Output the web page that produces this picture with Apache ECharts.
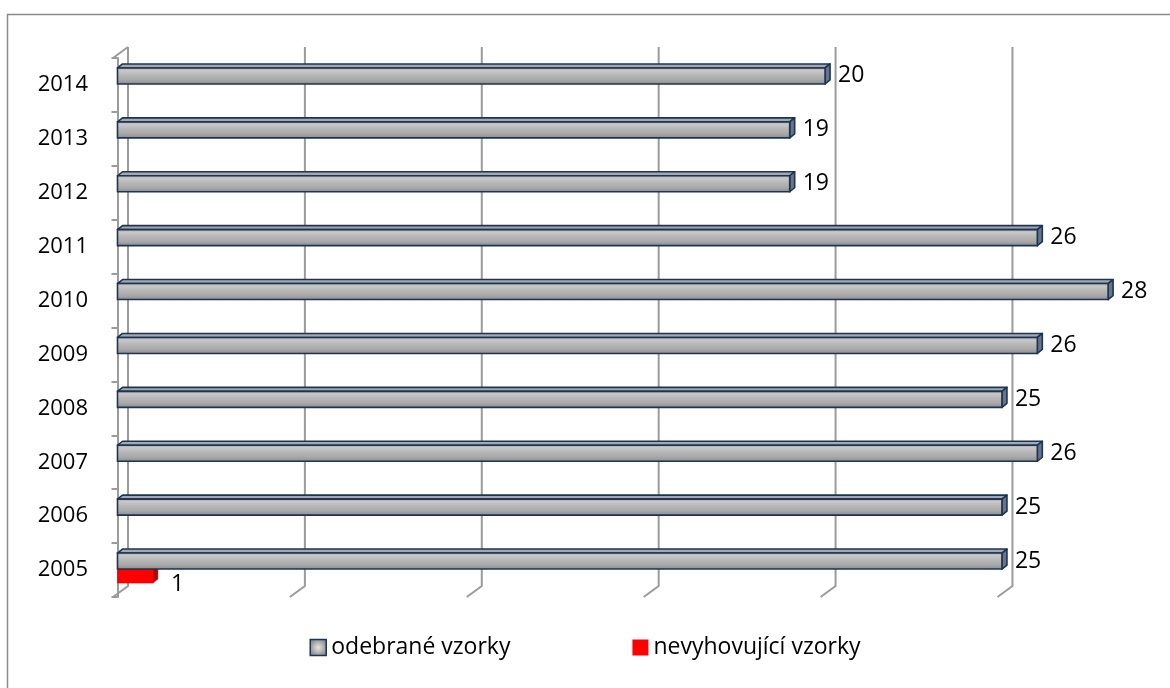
<!DOCTYPE html>
<html>
<head>
<meta charset="utf-8">
<script src="https://cdn.jsdelivr.net/npm/echarts@6/dist/echarts.min.js"></script>
<style>
  html, body { margin: 0; padding: 0; background: #ffffff; }
  #chart { width: 1170px; height: 688px; }
</style>
</head>
<body>
<div id="chart"></div>
<script>
// Categories and values
const years = ['2005', '2006', '2007', '2008', '2009', '2010', '2011', '2012', '2013', '2014'];
const odebraneVzorky = [25, 25, 26, 25, 26, 28, 26, 19, 19, 20];
const nevyhovujiciVzorky = [1, null, null, null, null, null, null, null, null, null];
const xTicks = [0, 5, 10, 15, 20, 25];
const seriesNames = ['odebrané vzorky', 'nevyhovující vzorky'];

const FONT = '"Open Sans", "Noto Sans", sans-serif';
const GRID_COLOR = '#9b9b9b';
const EDGE = '#1e3452';

// 3D look: offsets of the back wall relative to the bar plane and bar depth
const WALL = { backDx: 10.5, backDy: -11, frontDx: -4.5 };
const DEPTH = { dx: 5, dy: -4 };

const greyFront = new echarts.graphic.LinearGradient(0, 0, 0, 1, [
  { offset: 0, color: '#9c9c9c' },
  { offset: 0.18, color: '#c9c9c9' },
  { offset: 0.45, color: '#b6b6b6' },
  { offset: 0.7, color: '#aaaaaa' },
  { offset: 1, color: '#8a8a8a' }
]);

const barStyles = {
  grey: { top: -17, bottom: -1, front: greyFront, topFace: '#a3a9b3', side: '#66758c',
          stroke: EDGE, lineWidth: 1.6, labelGap: 8, labelDy: 0 },
  red:  { top: -1, bottom: 13, front: '#ff0000', topFace: '#e00000', side: '#b40000',
          stroke: '#d00000', lineWidth: 0.6, labelGap: 13, labelDy: 8 }
};

function makeBarRenderer(st) {
  return function (params, api) {
    const v = api.value(0);
    const i = api.value(1);
    const p0 = api.coord([0, i]);
    const p1 = api.coord([v, i]);
    const x0 = p0[0], x1 = p1[0], yc = p0[1];
    const top = yc + st.top, bottom = yc + st.bottom;
    const dx = DEPTH.dx, dy = DEPTH.dy;
    return {
      type: 'group',
      children: [
        {
          type: 'polygon',
          shape: { points: [[x0, top], [x0 + dx, top + dy], [x1 + dx, top + dy], [x1, top]] },
          style: { fill: st.topFace, stroke: st.stroke, lineWidth: st.lineWidth, lineJoin: 'round' }
        },
        {
          type: 'polygon',
          shape: { points: [[x1, top], [x1 + dx, top + dy], [x1 + dx, bottom + dy], [x1, bottom]] },
          style: { fill: st.side, stroke: st.stroke, lineWidth: st.lineWidth, lineJoin: 'round' }
        },
        {
          type: 'rect',
          shape: { x: x0, y: top, width: x1 - x0, height: bottom - top },
          style: { fill: st.front, stroke: st.stroke, lineWidth: st.lineWidth }
        },
        {
          type: 'text',
          x: x1 + dx + st.labelGap,
          y: (top + bottom) / 2 + st.labelDy,
          style: {
            text: String(v), fill: '#000000', font: '23px ' + FONT,
            textAlign: 'left', textVerticalAlign: 'middle'
          }
        }
      ]
    };
  };
}

function renderWall(params, api) {
  const v = api.value(0);
  const x = api.coord([v, 0])[0];
  const cs = params.coordSys;
  const top = cs.y, bottom = cs.y + cs.height;
  const bx = x + WALL.backDx, fx = x + WALL.frontDx;
  const children = [{
    type: 'polyline',
    shape: { points: [[bx, top + WALL.backDy], [bx, bottom + WALL.backDy], [fx, bottom]] },
    style: { stroke: GRID_COLOR, lineWidth: 2, fill: null }
  }];
  if (v === 0) {
    children.push({
      type: 'line',
      shape: { x1: fx, y1: top, x2: bx, y2: top + WALL.backDy },
      style: { stroke: GRID_COLOR, lineWidth: 2 }
    });
  }
  return { type: 'group', children: children };
}

const toData = arr => arr.map((v, i) => [v, i]).filter(d => d[0] !== null);

const chart = echarts.init(document.getElementById('chart'), null, { renderer: 'canvas' });
chart.setOption({
  animation: false,
  backgroundColor: '#ffffff',
  textStyle: { fontFamily: FONT },
  graphic: [{
    type: 'rect',
    shape: { x: 7.5, y: 14.5, width: 1220, height: 720 },
    style: { fill: null, stroke: '#8a8a8a', lineWidth: 1.5 },
    silent: true, z: -10
  }],
  grid: { left: 117.5, right: 0, top: 58, bottom: 91 },
  xAxis: {
    type: 'value', min: 0, max: 29.75,
    axisLine: { show: false }, axisTick: { show: false },
    axisLabel: { show: false }, splitLine: { show: false }
  },
  yAxis: {
    type: 'category', data: years, offset: 4.5,
    axisLine: { show: true, lineStyle: { color: GRID_COLOR, width: 2 } },
    axisTick: { show: true, length: 6, lineStyle: { color: GRID_COLOR, width: 2 } },
    axisLabel: { color: '#000000', fontSize: 22, fontFamily: FONT, margin: 25, padding: [5, 0, 0, 0] },
    splitLine: { show: false }
  },
  legend: {
    bottom: 24, left: 'center', itemGap: 122, itemWidth: 16, itemHeight: 16,
    textStyle: { fontSize: 23, color: '#000000', fontFamily: FONT },
    data: [
      { name: seriesNames[0], icon: 'rect',
        itemStyle: { color: new echarts.graphic.RadialGradient(0.5, 0.5, 0.6, [
          { offset: 0, color: '#e6e6e6' }, { offset: 1, color: '#7d7d7d' }]),
          borderColor: EDGE, borderWidth: 1.5 } },
      { name: seriesNames[1], icon: 'rect', itemStyle: { color: '#ff0000', borderWidth: 0 } }
    ]
  },
  series: [
    {
      type: 'custom', name: 'wall', renderItem: renderWall, silent: true, z: 1,
      data: xTicks.map(v => [v, 0]), encode: { x: 0, y: 1 }
    },
    {
      type: 'custom', name: seriesNames[1], renderItem: makeBarRenderer(barStyles.red), z: 2,
      itemStyle: { color: '#ff0000' },
      data: toData(nevyhovujiciVzorky), encode: { x: 0, y: 1 }
    },
    {
      type: 'custom', name: seriesNames[0], renderItem: makeBarRenderer(barStyles.grey), z: 3,
      itemStyle: { color: '#b0b0b0' },
      data: toData(odebraneVzorky), encode: { x: 0, y: 1 }
    }
  ]
});
</script>
</body>
</html>
